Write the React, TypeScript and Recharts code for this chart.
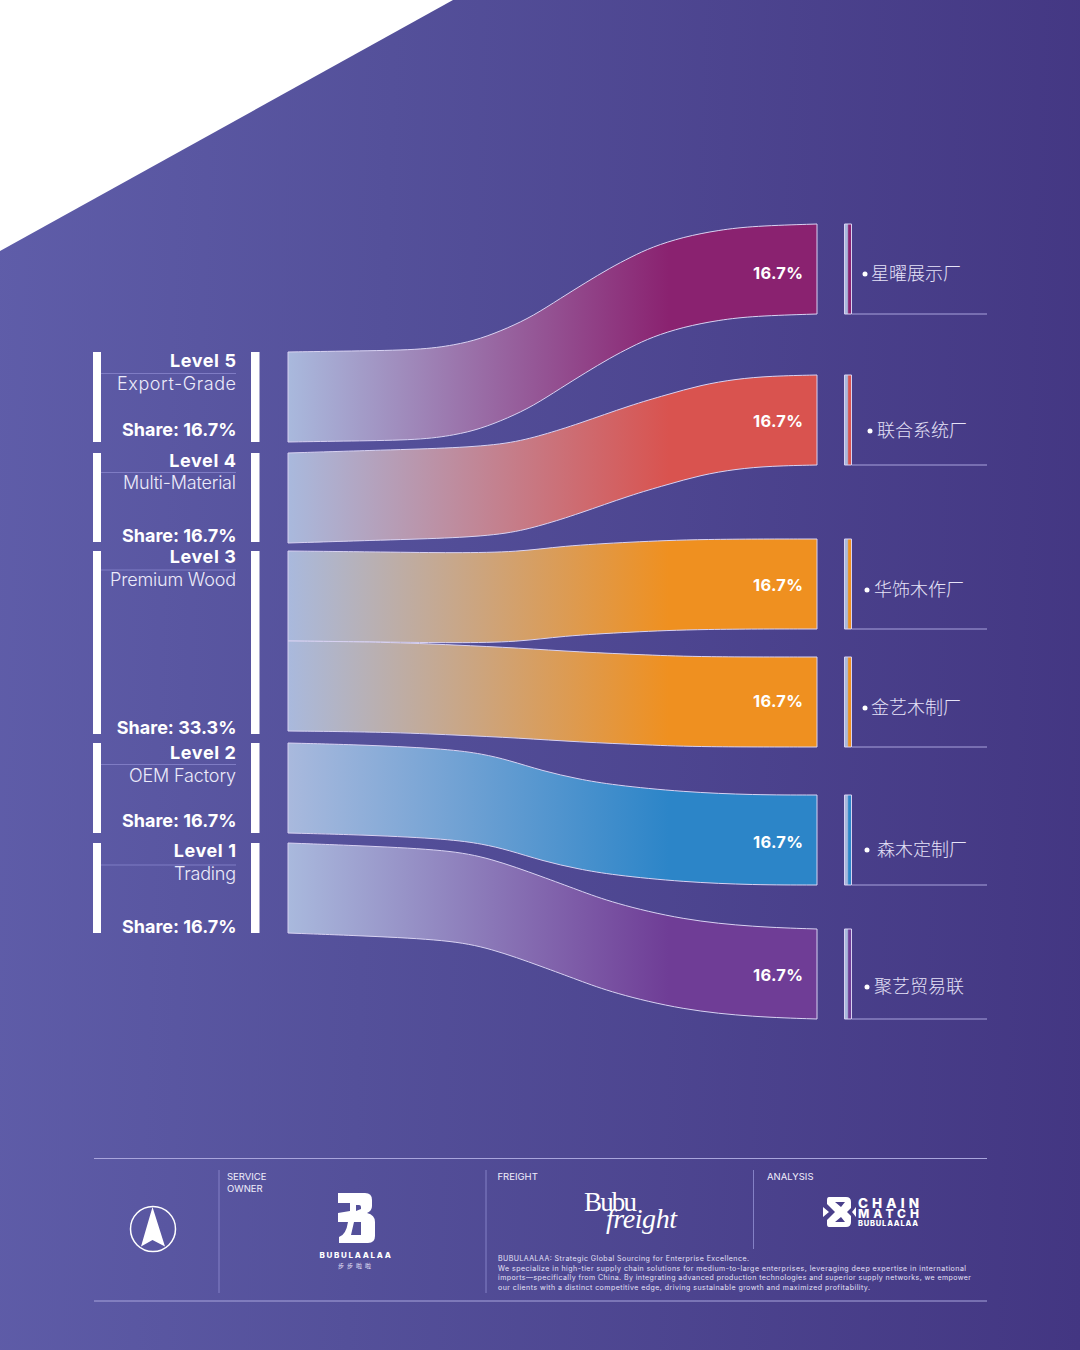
import { Area, ComposedChart, ReferenceArea, ReferenceLine, XAxis, YAxis } from "recharts";

const WIDTH = 1080;
const HEIGHT = 1350;

// one row per link, top to bottom
const levelNames = ["Level 5", "Level 4", "Level 3", "Level 2", "Level 1"];
const levelTypes = ["Export-Grade", "Multi-Material", "Premium Wood", "OEM Factory", "Trading"];
const levelShares = ["16.7%", "16.7%", "33.3%", "16.7%", "16.7%"];
const factories = ["星曜展示厂", "联合系统厂", "华饰木作厂", "金艺木制厂", "森木定制厂", "聚艺贸易联"];
const linkShares = ["16.7%", "16.7%", "16.7%", "16.7%", "16.7%", "16.7%"];
const linkColors = ["#8a2270", "#d9534f", "#ef9020", "#ef9020", "#2c85c8", "#6f3d96"];

// link top edge, x and y on the page scale
const xingyaoX = [288, 350, 420, 455, 480, 508, 533, 561, 585, 610, 631, 652, 683, 719, 754, 817];
const xingyaoTop = [352, 351, 350, 345, 339, 328, 316, 298, 283, 268, 257, 247, 237, 230, 226, 224];
const lianheX = [288, 385, 455, 508, 543, 578, 631, 666, 701, 736, 771, 817];
const lianheTop = [453, 450, 448, 444, 435, 424, 405, 395, 385, 379, 376, 375];
const huashiX = [288, 385, 455, 519, 561, 631, 701, 817];
const huashiTop = [551, 552, 553, 552, 546, 542, 539, 539];
const jinyiX = [288, 385, 455, 519, 578, 648, 701, 817];
const jinyiTop = [641, 642, 645, 648, 652, 655, 657, 657];
const senmuX = [288, 368, 448, 483, 508, 543, 578, 613, 683, 754, 817];
const senmuTop = [743, 745, 749, 754, 760, 771, 779, 785, 792, 795, 795];
const juyiX = [288, 368, 448, 490, 543, 578, 613, 683, 754, 817];
const juyiTop = [843, 846, 850, 858, 877, 890, 903, 920, 927, 929];

const linkX = [xingyaoX, lianheX, huashiX, jinyiX, senmuX, juyiX];
const linkTop = [xingyaoTop, lianheTop, huashiTop, jinyiTop, senmuTop, juyiTop];
const linkSize = 90;

// left blocks, y span of each level
const levelTop = [352, 453, 551, 743, 843];
const levelBottom = [442, 542, 734, 833, 933];

// text and line placement
const SANS = "Inter, 'Noto Sans', sans-serif";
const CJK = "'Noto Sans CJK SC', sans-serif";
const LINE = "#d8d2f2";
const titleY = [361, 461, 557, 752.5, 851];
const ruleY = [373.5, 472.5, 570, 764.5, 865];
const typeY = [384, 483, 580, 776, 874];
const typeWidth = [119, 113, 126, 107, 62];
const shareY = [430, 536, 728, 821, 927];
const pctY = [273, 421, 585, 701, 842, 975];
const dotX = [865, 870, 867, 865, 867, 867];
const nameX = [871, 877, 874, 871, 877, 874];
const nameY = [274, 431, 590, 708, 850, 987];

const aboutLines = [
  "BUBULAALAA: Strategic Global Sourcing for Enterprise Excellence.",
  "We specialize in high-tier supply chain solutions for medium-to-large enterprises, leveraging deep expertise in international",
  "imports—specifically from China. By integrating advanced production technologies and superior supply networks, we empower",
  "our clients with a distinct competitive edge, driving sustainable growth and maximized profitability.",
];
const aboutY = [1261, 1271, 1280, 1290];
const aboutWidth = [251, 468, 473, 372];

function points(xs: number[], tops: number[]) {
  return xs.map((x, i) => ({ x, top: tops[i] }));
}

function Footer() {
  const small = { fontFamily: SANS, fontSize: 9.5, fontWeight: 400, fill: "#f1eefc" };
  return (
    <g>
      <circle cx={153} cy={1229} r={22.5} fill="none" stroke="#fff" strokeWidth={1.5} />
      <path d="M152.5 1207 L165 1246.5 L152.5 1240 L141 1246.5 Z" fill="#fff" />

      <text x={227} y={1180} {...small}>SERVICE</text>
      <text x={227} y={1192} {...small}>OWNER</text>
      <text x={497.5} y={1180} {...small}>FREIGHT</text>
      <text x={767} y={1180} {...small}>ANALYSIS</text>

      <path
        d="M338 1193 L365 1193 Q372 1193 372 1200 L372 1206 Q372 1211 367 1213 Q375 1215 375 1222 L375 1236 Q375 1243 368 1243 L339 1243 L339 1237 Q346 1235 348 1222 L338 1222 L338 1213 L350 1211 L350 1203 L338 1203 Z M356 1205 L359 1205 Q361 1205 361 1207 L361 1209 L356 1211 Z M354 1222 L361 1222 L361 1235 L351 1235 Z"
        fill="#fff"
        fillRule="evenodd"
      />
      <text x={356} y={1258} textAnchor="middle" fontFamily={SANS} fontSize={8} fontWeight={800} fill="#fff" letterSpacing={1.7}>BUBULAALAA</text>
      <text x={356} y={1268} textAnchor="middle" fontFamily={CJK} fontSize={6} fill="#e6e2f8" letterSpacing={3}>步步啦啦</text>

      <text x={584} y={1211} fontFamily="'Liberation Serif', serif" fontSize={27} fill="#fff" textLength={53}>Bubu</text>
      <text x={606} y={1228} fontFamily="'Liberation Serif', serif" fontStyle="italic" fontSize={28} fill="#fff" textLength={71}>freight</text>

      <path
        d="M829 1197 L846 1197 Q851 1197 851 1202 L851 1208 L847 1212 L851 1216 L851 1222 Q851 1227 846 1227 L829 1227 Q827 1227 827 1224 L827 1220 L835 1212 L827 1204 L827 1200 Q827 1197 829 1197 Z M835 1202 L845 1202 L841 1207 Z M841 1217 L845 1222 L835 1222 Z"
        fill="#fff"
        fillRule="evenodd"
      />
      <path d="M823 1207 L829 1212 L823 1217 Z M856 1207 L856 1217 L852 1212 Z" fill="#fff" />
      <text x={858} y={1207.5} fontFamily={SANS} fontSize={13.5} fontWeight={800} fill="#fff" textLength={61}>CHAIN</text>
      <text x={858} y={1218} fontFamily={SANS} fontSize={12} fontWeight={800} fill="#fff" textLength={61}>MATCH</text>
      <text x={858} y={1226} fontFamily={SANS} fontSize={7.5} fontWeight={800} fill="#fff" textLength={60}>BUBULAALAA</text>

      {aboutLines.map((line, i) => (
        <text key={i} x={498} y={aboutY[i]} fontFamily={SANS} fontSize={7} fill="#e6e2f8" textLength={aboutWidth[i]}>
          {line}
        </text>
      ))}
    </g>
  );
}

export default function App() {
  return (
    <div style={{ position: "absolute", left: 0, top: 0, width: WIDTH, height: HEIGHT, background: "#fff", overflow: "hidden" }}>
      <div
        style={{
          position: "absolute",
          inset: 0,
          background: "linear-gradient(92deg, #5f5da9 0%, #54509a 35%, #433682 100%)",
          clipPath: "polygon(453px 0, 1080px 0, 1080px 1350px, 0 1350px, 0 251px)",
        }}
      />
      <ComposedChart width={WIDTH} height={HEIGHT} margin={{ top: 0, right: 0, bottom: 0, left: 0 }} style={{ position: "absolute", left: 0, top: 0 }}>
        <defs>
          {linkColors.map((color, i) => (
            <linearGradient key={i} id={`link${i}`} x1="0" y1="0" x2="1" y2="0">
              <stop offset="0%" stopColor="#a9b9dd" />
              <stop offset="72%" stopColor={color} />
              <stop offset="100%" stopColor={color} />
            </linearGradient>
          ))}
          {linkColors.map((color, i) => (
            <linearGradient key={i} id={`node${i}`} x1="0" y1="0" x2="1" y2="0">
              <stop offset="40%" stopColor="#a9b9dd" />
              <stop offset="60%" stopColor={color} />
            </linearGradient>
          ))}
        </defs>
        <XAxis hide type="number" dataKey="x" domain={[0, WIDTH]} />
        <YAxis hide reversed type="number" domain={[0, HEIGHT]} />

        {factories.map((name, i) => (
          <Area
            key={name}
            data={points(linkX[i], linkTop[i])}
            dataKey={(d: { top: number }) => [d.top, d.top + linkSize]}
            type="basis"
            fill={`url(#link${i})`}
            fillOpacity={1}
            stroke={LINE}
            strokeWidth={1}
            dot={false}
            activeDot={false}
            isAnimationActive={false}
          />
        ))}
        {factories.map((name, i) => {
          const tops = linkTop[i];
          const start = tops[0];
          const end = tops[tops.length - 1];
          return [
            <ReferenceLine key={`${name}-a`} segment={[{ x: 288, y: start }, { x: 288, y: start + linkSize }]} stroke={LINE} />,
            <ReferenceLine key={`${name}-b`} segment={[{ x: 817, y: end }, { x: 817, y: end + linkSize }]} stroke={LINE} />,
            <ReferenceArea key={`${name}-c`} x1={844.5} x2={851.5} y1={end} y2={end + linkSize} fill={`url(#node${i})`} fillOpacity={1} stroke={LINE} strokeWidth={1} />,
            <ReferenceLine key={`${name}-d`} segment={[{ x: 852, y: end + linkSize }, { x: 987, y: end + linkSize }]} stroke="#a9a3dc" />,
          ];
        })}

        {levelNames.map((name, i) => [
          <ReferenceArea key={`${name}-l`} x1={93} x2={101} y1={levelTop[i]} y2={levelBottom[i]} fill="#fff" fillOpacity={1} />,
          <ReferenceArea key={`${name}-r`} x1={251} x2={259.5} y1={levelTop[i]} y2={levelBottom[i]} fill="#fff" fillOpacity={1} />,
          <ReferenceLine key={`${name}-u`} segment={[{ x: 101, y: ruleY[i] }, { x: 236, y: ruleY[i] }]} stroke="#7f7cc4" />,
        ])}

        <ReferenceLine segment={[{ x: 94, y: 1158.5 }, { x: 987, y: 1158.5 }]} stroke="#a9a5dc" />
        <ReferenceLine segment={[{ x: 94, y: 1301 }, { x: 987, y: 1301 }]} stroke="#a9a5dc" />
        <ReferenceLine segment={[{ x: 219, y: 1170 }, { x: 219, y: 1293 }]} stroke="#8481c6" />
        <ReferenceLine segment={[{ x: 486, y: 1170 }, { x: 486, y: 1293 }]} stroke="#8481c6" />
        <ReferenceLine segment={[{ x: 753.5, y: 1170 }, { x: 753.5, y: 1249 }]} stroke="#8481c6" />

        {levelNames.map((name, i) => (
          <g key={name} textAnchor="end" fontFamily={SANS} fill="#fff">
            <text x={236.5} y={titleY[i]} dy="0.36em" fontSize={18} fontWeight={700} letterSpacing={0.6}>{name}</text>
            <text x={236} y={typeY[i]} dy="0.36em" fontSize={18} fontWeight={300} fill="#ecebfa" textLength={typeWidth[i]}>{levelTypes[i]}</text>
            <text x={236.5} y={shareY[i]} dy="0.36em" fontSize={18} fontWeight={700}>{`Share: ${levelShares[i]}`}</text>
          </g>
        ))}
        {factories.map((name, i) => (
          <g key={name}>
            <circle cx={dotX[i]} cy={nameY[i]} r={2.5} fill="#fff" />
            <text x={nameX[i]} y={nameY[i]} dy="0.36em" fontFamily={CJK} fontSize={18} fontWeight={300} fill="#e6e3f8">{name}</text>
          </g>
        ))}
        <Footer />
      </ComposedChart>
      {/* the areas sit above plain chart children, so the link labels go in their own layer */}
      <svg width={WIDTH} height={HEIGHT} style={{ position: "absolute", left: 0, top: 0, pointerEvents: "none" }}>
        {factories.map((name, i) => (
          <text key={name} x={803} y={pctY[i]} dy="0.36em" textAnchor="end" fontFamily={SANS} fontSize={16.5} fontWeight={700} fill="#fff" textLength={50}>
            {linkShares[i]}
          </text>
        ))}
      </svg>
    </div>
  );
}
